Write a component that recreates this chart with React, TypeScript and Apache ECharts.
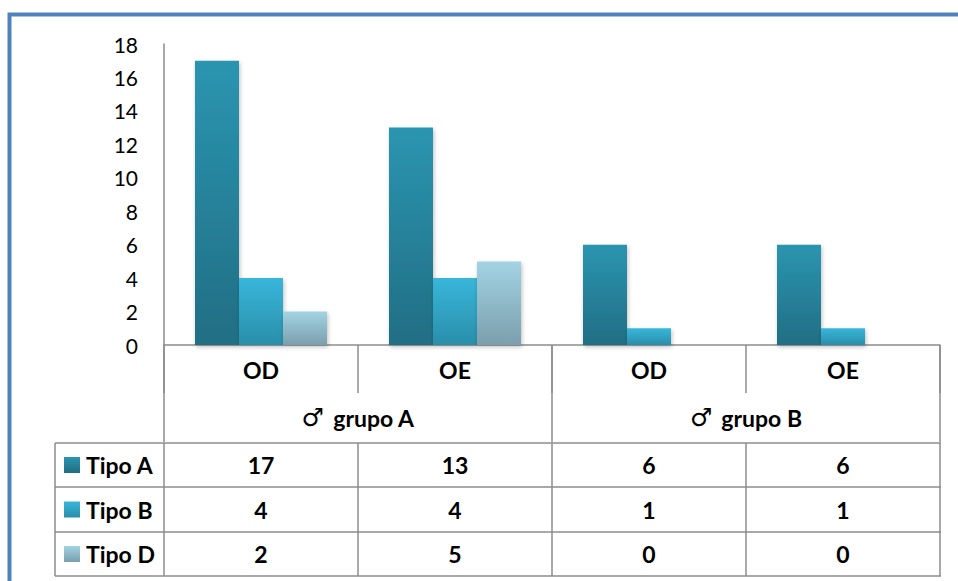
import React, { useEffect, useRef } from "react";
import * as echarts from "echarts";

// Category labels along the x axis and the two groups they belong to
const categories = ["OD", "OE", "OD", "OE"];
const groups = ["grupo A", "grupo B"];

// Series values per category
const seriesNames = ["Tipo A", "Tipo B", "Tipo D"];
const tipoA = [17, 13, 6, 6];
const tipoB = [4, 4, 1, 1];
const tipoD = [2, 5, 0, 0];

// Value axis range
const yMin = 0;
const yMax = 18;
const yInterval = 2;

const FONT = "Lato, 'Open Sans', sans-serif";
const GRID_LEFT = 164;
const GRID_RIGHT_X = 940;
const GRID_TOP = 44;
const AXIS_Y = 345;
const LINE = "#8c8c8c";

const grad = (top: string, bottom: string) =>
  new echarts.graphic.LinearGradient(0, 0, 0, 1, [
    { offset: 0, color: top },
    { offset: 1, color: bottom },
  ]);

const colors = [
  ["#2b95b0", "#216e84"],
  ["#38b6da", "#2a8eaa"],
  ["#a3d3e3", "#7b9fad"],
];

export default function App() {
  const ref = useRef<HTMLDivElement>(null);

  useEffect(() => {
    if (!ref.current) return;
    const chart = echarts.init(ref.current, undefined, { renderer: "svg" });
    const values = [tipoA, tipoB, tipoD];

    const catW = (GRID_RIGHT_X - GRID_LEFT) / categories.length;
    const tableLeft = 55;
    const rowEdges = [443, 487, 532, 576];
    const colEdges = [tableLeft, GRID_LEFT];
    for (let i = 1; i <= categories.length; i++) colEdges.push(GRID_LEFT + catW * i);

    const graphics: any[] = [
      // outer frame
      {
        type: "rect",
        shape: { x: 9.5, y: 14.5, width: 1200, height: 1200 },
        style: { fill: "none", stroke: "#4f81bd", lineWidth: 4 },
        silent: true,
      },
    ];

    // data table grid
    rowEdges.forEach((y) =>
      graphics.push({
        type: "line",
        shape: { x1: tableLeft, y1: y, x2: GRID_RIGHT_X + 1, y2: y },
        style: { stroke: LINE, lineWidth: 1.5 },
      })
    );
    colEdges.forEach((x) =>
      graphics.push({
        type: "line",
        shape: { x1: x, y1: rowEdges[0], x2: x, y2: rowEdges[rowEdges.length - 1] },
        style: { stroke: LINE, lineWidth: 1.5 },
      })
    );

    // legend keys, series names and values in the table
    seriesNames.forEach((name, r) => {
      const cy = (rowEdges[r] + rowEdges[r + 1]) / 2;
      graphics.push({
        type: "rect",
        shape: { x: 64, y: cy - 8, width: 16, height: 16 },
        style: { fill: grad(colors[r][0], colors[r][1]) },
      });
      graphics.push({
        type: "text",
        x: 86,
        y: cy,
        style: {
          text: name,
          font: `bold 23px ${FONT}`,
          fill: "#000",
          align: "left",
          verticalAlign: "middle",
        },
      });
      values[r].forEach((v, c) => {
        graphics.push({
          type: "text",
          x: GRID_LEFT + catW * (c + 0.5),
          y: cy,
          style: {
            text: String(v),
            font: `bold 23px ${FONT}`,
            fill: "#000",
            align: "center",
            verticalAlign: "middle",
          },
        });
      });
    });

    chart.setOption({
      animation: false,
      grid: {
        left: GRID_LEFT,
        top: GRID_TOP,
        width: GRID_RIGHT_X - GRID_LEFT,
        height: AXIS_Y - GRID_TOP,
        containLabel: false,
      },
      xAxis: [
        {
          type: "category",
          data: categories,
          position: "bottom",
          axisLine: { show: true, lineStyle: { color: LINE, width: 1.5 } },
          axisTick: { show: true, length: 48, lineStyle: { color: LINE, width: 1.5 } },
          axisLabel: {
            margin: 13,
            fontSize: 23,
            fontWeight: "bold",
            color: "#000",
            fontFamily: FONT,
          },
        },
        {
          type: "category",
          data: groups,
          position: "bottom",
          axisLine: { show: false },
          axisTick: { show: true, length: 97, lineStyle: { color: LINE, width: 1.5 } },
          axisLabel: {
            margin: 60,
            color: "#000",
            fontFamily: FONT,
            formatter: (v: string) => `{s|♂}{b|${v}}`,
            rich: {
              s: {
                fontSize: 25,
                fontWeight: "normal",
                fontFamily: "'DejaVu Sans', sans-serif",
                padding: [0, 9, 0, 0],
              },
              b: { fontSize: 23, fontWeight: "bold", fontFamily: FONT },
            },
          },
        },
      ],
      yAxis: {
        type: "value",
        min: yMin,
        max: yMax,
        interval: yInterval,
        axisLine: { show: true, lineStyle: { color: LINE, width: 1.5 } },
        axisTick: { show: false },
        splitLine: { show: false },
        axisLabel: { margin: 26, fontSize: 21, color: "#000", fontFamily: FONT },
      },
      series: seriesNames.map((name, i) => ({
        type: "bar",
        name,
        data: values[i],
        xAxisIndex: 0,
        barWidth: 44,
        barGap: "0%",
        itemStyle: {
          color: grad(colors[i][0], colors[i][1]),
          shadowColor: "rgba(0,0,0,0.25)",
          shadowBlur: 4,
          shadowOffsetX: 1,
          shadowOffsetY: 2,
        },
      })),
      graphic: graphics,
    });

    return () => chart.dispose();
  }, []);

  return (
    <div
      ref={ref}
      style={{ position: "fixed", left: 0, top: 0, width: 958, height: 581, background: "#fff" }}
    />
  );
}
